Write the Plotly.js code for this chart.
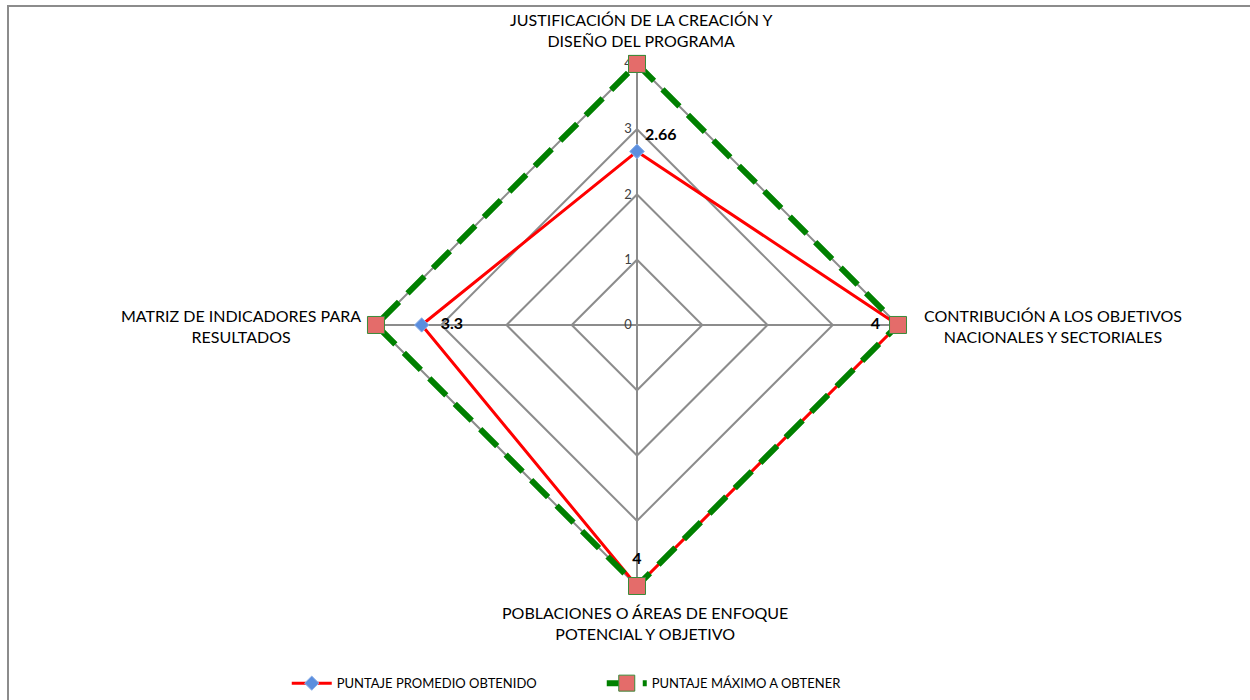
<!DOCTYPE html>
<html>
<head>
<meta charset="utf-8">
<script src="https://cdn.plot.ly/plotly-3.0.1.min.js"></script>
<style>html,body{margin:0;padding:0;background:#fff;}#chart{width:1250px;height:700px;}</style>
</head>
<body>
<div id="chart"></div>
<script>
// Data
const categories = [
  "JUSTIFICACIÓN DE LA CREACIÓN Y<br>DISEÑO DEL PROGRAMA",
  "CONTRIBUCIÓN A LOS OBJETIVOS<br>NACIONALES Y SECTORIALES",
  "POBLACIONES O ÁREAS DE ENFOQUE<br>POTENCIAL Y OBJETIVO",
  "MATRIZ DE INDICADORES PARA<br>RESULTADOS"
];
const seriesNames = ["PUNTAJE PROMEDIO OBTENIDO", "PUNTAJE MÁXIMO A OBTENER"];
const promedio = [2.66, 4, 4, 3.3];
const maximo = [4, 4, 4, 4];
const radialTicks = [0, 1, 2, 3, 4];

const closeLoop = a => a.concat([a[0]]);

const FONT = "Lato, 'Open Sans', sans-serif";
const GRID = "#8c8c8c";

const traces = [
  {
    type: "scatterpolar",
    name: seriesNames[0],
    r: closeLoop(promedio),
    theta: closeLoop(categories),
    mode: "lines+markers",
    line: {color: "#ff0000", width: 3},
    marker: {symbol: "diamond", size: 11, color: "#5b8ede", line: {color: "#8fb3ea", width: 1}},
    cliponaxis: false,
    hoverinfo: "r+name"
  },
  {
    type: "scatterpolar",
    name: seriesNames[1],
    r: closeLoop(maximo),
    theta: closeLoop(categories),
    mode: "lines+markers",
    line: {color: "#008000", width: 6, dash: "24px,12px"},
    marker: {symbol: "square", size: 17, color: "#e46c6a", line: {color: "#3a8a3a", width: 1}},
    cliponaxis: false,
    hoverinfo: "r+name"
  },
  {
    // data labels for the average series
    type: "scatterpolar",
    showlegend: false,
    r: promedio,
    theta: categories,
    mode: "markers+text",
    marker: {size: [11, 27, 27, 29], opacity: 0},
    text: promedio.map(String),
    textposition: ["top right", "middle left", "top center", "middle right"],
    textfont: {family: FONT, size: 16, color: "#000", weight: "bold"},
    cliponaxis: false,
    hoverinfo: "skip"
  }
];

const annPos = [
  {x: 641 / 1250, y: 1 - 30 / 700},
  {x: 1053 / 1250, y: 1 - 326 / 700},
  {x: 645 / 1250, y: 1 - 623 / 700},
  {x: 241 / 1250, y: 1 - 326 / 700}
];

const layout = {
  width: 1250,
  height: 700,
  margin: {l: 0, r: 0, t: 0, b: 0},
  paper_bgcolor: "#fff",
  font: {family: FONT, size: 16, color: "#000"},
  showlegend: true,
  legend: {
    orientation: "h",
    x: 0.4814, xanchor: "center",
    y: 0.024, yanchor: "middle",
    font: {family: FONT, size: 13, color: "#000"},
    entrywidth: 260,
    itemwidth: 40
  },
  annotations: categories.map((c, i) => ({
    text: c, xref: "paper", yref: "paper",
    x: annPos[i].x, y: annPos[i].y,
    xanchor: "center", yanchor: "middle", align: "center",
    showarrow: false,
    font: {family: FONT, size: 16, color: "#000"}
  })),
  polar: {
    domain: {x: [0.2966, 0.7226], y: [0.1554, 0.9161]},
    gridshape: "linear",
    bgcolor: "rgba(0,0,0,0)",
    angularaxis: {
      rotation: 90,
      direction: "clockwise",
      type: "category",
      showline: false,
      gridcolor: GRID,
      gridwidth: 1.5,
      ticks: "",
      showticklabels: false,
      layer: "below traces"
    },
    radialaxis: {
      range: [0, 4.08],
      tickmode: "array",
      tickvals: radialTicks,
      ticktext: radialTicks.map(String),
      angle: 90,
      tickangle: 90,
      side: "counterclockwise",
      showline: true,
      linecolor: GRID,
      linewidth: 1.5,
      gridcolor: GRID,
      gridwidth: 1.5,
      ticks: "",
      layer: "below traces",
      tickfont: {family: FONT, size: 13, color: "#404040"}
    }
  },
  shapes: [
    {type: "rect", xref: "paper", yref: "paper",
     x0: 8/1250, x1: 1.02, y0: -0.02, y1: 1 - 6/700,
     line: {color: "#8c8c8c", width: 2}, fillcolor: "rgba(0,0,0,0)", layer: "below"}
  ]
};

Plotly.newPlot("chart", traces, layout, {displayModeBar: false, responsive: false});
</script>
</body>
</html>
